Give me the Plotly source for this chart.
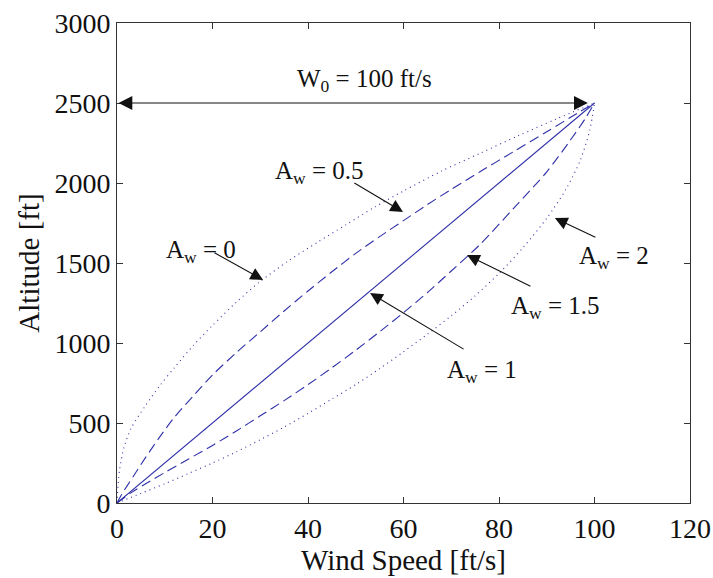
import plotly.graph_objects as go

# Wind speed profiles (ft/s) versus altitude (ft) for several shape factors A_w
aw0_speed = [0, 0.5, 1.5, 3, 6, 9, 12, 16, 20, 25, 30, 36, 42, 48, 54, 60, 68, 76, 84, 92, 100]
aw0_alt = [0, 200, 350, 470, 610, 735, 845, 985, 1110, 1255, 1385, 1515, 1630, 1740, 1850, 1950, 2075, 2185, 2295, 2400, 2500]

aw05_speed = [0, 1, 3.5, 6, 9, 12, 16, 20, 25, 30, 35, 40, 45, 50, 55, 60, 65, 70, 76, 83, 90, 97, 100]
aw05_alt = [0, 55, 170, 285, 415, 535, 670, 800, 940, 1070, 1200, 1325, 1445, 1560, 1665, 1765, 1865, 1960, 2070, 2195, 2320, 2447, 2500]

aw1_speed = [0, 100]
aw1_alt = [0, 2500]

aw15_speed = [0, 3, 6, 10, 15, 20, 25, 30, 35, 40, 45, 50, 55, 60, 65, 70, 76, 83, 90, 95, 98, 100]
aw15_alt = [0, 65, 120, 190, 275, 360, 450, 545, 640, 740, 845, 955, 1070, 1190, 1315, 1450, 1615, 1840, 2070, 2270, 2400, 2500]

aw2_speed = [0, 5, 10, 15, 20, 25, 30, 35, 40, 45, 50, 55, 60, 65, 70, 75, 80, 85, 90, 94, 97, 99, 100]
aw2_alt = [0, 60, 120, 185, 250, 320, 395, 475, 560, 650, 740, 840, 945, 1055, 1170, 1295, 1435, 1595, 1780, 1960, 2140, 2330, 2500]

x_ticks = [0, 20, 40, 60, 80, 100, 120]
y_ticks = [0, 500, 1000, 1500, 2000, 2500, 3000]

BLUE = "#2f2fa8"
INK = "#111111"
FONT = "Liberation Serif, Times New Roman, serif"

fig = go.Figure()
series = [
    (aw0_speed, aw0_alt, "1px,4px"),
    (aw05_speed, aw05_alt, "10px,5px"),
    (aw1_speed, aw1_alt, "solid"),
    (aw15_speed, aw15_alt, "10px,5px"),
    (aw2_speed, aw2_alt, "1px,4px"),
]
for xs, ys, dash in series:
    fig.add_trace(go.Scatter(
        x=xs, y=ys, mode="lines",
        line=dict(color=BLUE, width=1.1, dash=dash, shape="spline", smoothing=0.8),
        showlegend=False, hoverinfo="skip",
    ))

# Double-headed arrow marking W0 at 2500 ft
fig.add_annotation(
    x=98.6, y=2500, ax=0, ay=2500, axref="x", ayref="y", xref="x", yref="y",
    text="", showarrow=True, arrowhead=2, startarrowhead=2, arrowside="end+start",
    arrowsize=2.3, startarrowsize=2.3, arrowwidth=1.2, arrowcolor=INK,
)
fig.add_annotation(
    x=51.9, y=2640, xref="x", yref="y", text="W<sub>0</sub> = 100 ft/s",
    showarrow=False, font=dict(family=FONT, size=25, color=INK),
)

# Labelled arrows for each profile: (label, text x, text y, tail x, tail y, tip x, tip y)
labels = [
    ("A<sub>w</sub> = 0", 17.6, 1570, 20.1, 1569, 30.6, 1394),
    ("A<sub>w</sub> = 0.5", 42.5, 2064, 49.4, 2006, 59.9, 1819),
    ("A<sub>w</sub> = 1", 76.4, 820, 72.9, 956, 53.0, 1312),
    ("A<sub>w</sub> = 1.5", 91.9, 1220, 86.9, 1350, 73.3, 1550),
    ("A<sub>w</sub> = 2", 104.0, 1532, 100.5, 1656, 91.7, 1781),
]
for text, tx, ty, ax_, ay_, hx, hy in labels:
    fig.add_annotation(
        x=tx, y=ty, xref="x", yref="y", text=text, showarrow=False,
        font=dict(family=FONT, size=25, color=INK),
    )
    fig.add_annotation(
        x=hx, y=hy, ax=ax_, ay=ay_, axref="x", ayref="y", xref="x", yref="y",
        text="", showarrow=True, arrowhead=2, arrowsize=2.3, arrowwidth=1.1,
        arrowcolor=INK, standoff=0,
    )

axis_common = dict(
    showline=True, linecolor="#333", linewidth=1, mirror="ticks",
    ticks="inside", ticklen=6, tickcolor="#333", showgrid=False, zeroline=False,
    tickfont=dict(family=FONT, size=28, color=INK), automargin=False,
)
fig.update_xaxes(
    range=[0, 120], tickvals=x_ticks, ticktext=[str(v) for v in x_ticks],
    title=dict(text="Wind Speed [ft/s]", font=dict(family=FONT, size=29, color=INK), standoff=4),
    **axis_common,
)
fig.update_yaxes(
    range=[0, 3000], tickvals=y_ticks, ticktext=[str(v) for v in y_ticks],
    title=dict(text="Altitude [ft]", font=dict(family=FONT, size=29, color=INK), standoff=6),
    **axis_common,
)
fig.update_layout(
    width=713, height=578,
    margin=dict(l=117, r=23, t=23, b=75),
    paper_bgcolor="white", plot_bgcolor="white",
)
fig.write_html("out.html")
